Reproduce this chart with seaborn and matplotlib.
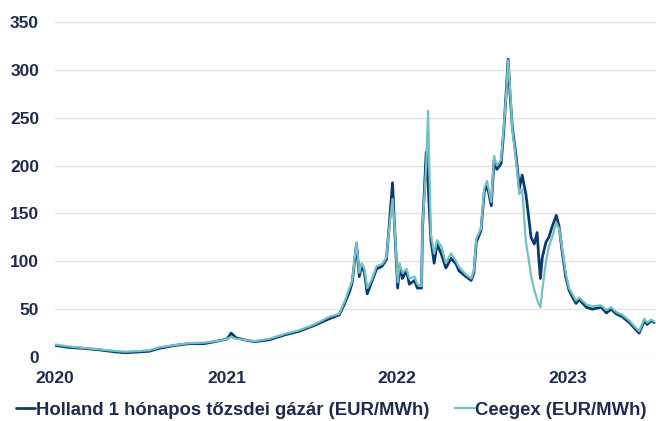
import matplotlib
matplotlib.use("Agg")
import matplotlib.pyplot as plt
import matplotlib.dates as mdates
import numpy as np
import pandas as pd
import seaborn as sns

# Daily gas prices, EUR/MWh
dates = [
    "2020-01-02", "2020-01-31", "2020-03-03", "2020-04-04", "2020-05-06", "2020-05-28",
    "2020-06-18", "2020-07-20", "2020-08-10", "2020-09-12", "2020-10-14", "2020-11-15",
    "2020-12-17", "2021-01-03", "2021-01-11", "2021-01-22", "2021-02-08", "2021-03-02",
    "2021-04-03", "2021-05-05", "2021-06-06", "2021-07-08", "2021-08-09", "2021-08-30",
    "2021-09-10", "2021-09-21", "2021-09-27", "2021-10-06", "2021-10-12", "2021-10-17",
    "2021-10-23", "2021-10-29", "2021-11-07", "2021-11-18", "2021-11-30", "2021-12-09",
    "2021-12-15", "2021-12-22", "2021-12-26", "2022-01-02", "2022-01-06", "2022-01-12",
    "2022-01-21", "2022-01-27", "2022-02-07", "2022-02-13", "2022-02-22", "2022-02-24",
    "2022-03-04", "2022-03-08", "2022-03-14", "2022-03-21", "2022-03-27", "2022-04-05",
    "2022-04-15", "2022-04-26", "2022-05-07", "2022-05-13", "2022-05-28", "2022-06-08",
    "2022-06-14", "2022-06-19", "2022-06-29", "2022-07-06", "2022-07-12", "2022-07-21",
    "2022-07-27", "2022-08-02", "2022-08-11", "2022-08-17", "2022-08-22", "2022-08-26",
    "2022-08-30", "2022-09-04", "2022-09-12", "2022-09-19", "2022-09-25", "2022-10-03",
    "2022-10-08", "2022-10-14", "2022-10-21", "2022-10-27", "2022-10-31", "2022-11-03",
    "2022-11-07", "2022-11-15", "2022-11-21", "2022-11-28", "2022-12-07", "2022-12-13",
    "2022-12-19", "2022-12-27", "2023-01-03", "2023-01-10", "2023-01-18", "2023-01-25",
    "2023-02-09", "2023-02-22", "2023-03-13", "2023-03-24", "2023-04-03", "2023-04-14",
    "2023-04-27", "2023-05-12", "2023-05-27", "2023-06-02", "2023-06-13", "2023-06-19",
    "2023-06-28", "2023-07-04",
]

ttf = [
    12, 10, 9, 7.5, 5.5, 4.5,
    5, 6, 9, 12, 14, 14,
    17, 19, 25, 20, 18, 16,
    18, 23, 27, 33, 40, 44,
    55, 68, 78, 118, 84, 96,
    88, 66, 78, 92, 95, 102,
    138, 182, 140, 72, 95, 82,
    90, 76, 80, 72, 72, 134,
    214, 180, 122, 98, 118, 108,
    93, 103, 97, 90, 84, 80,
    88, 120, 132, 172, 180, 158,
    205, 196, 202, 238, 278, 311,
    275, 240, 210, 176, 190, 170,
    150, 125, 118, 130, 100, 82,
    104, 120, 125, 136, 148, 136,
    112, 84, 70, 63, 56, 60,
    52, 50, 52, 46, 50, 45,
    42, 36, 28, 25, 38, 34,
    38, 36,
]

ceegex = [
    13, 11, 9.5, 8, 6.5, 5.5,
    6, 7, 10, 12.5, 14.5, 15,
    17, 19, 21, 19, 18, 16.5,
    19, 24, 28, 34, 42, 45,
    57, 72, 80, 120, 88, 98,
    92, 72, 80, 95, 97, 104,
    135, 165, 140, 78, 98, 88,
    92, 82, 84, 76, 74, 136,
    200, 257, 128, 108, 122, 116,
    98, 108, 100, 94, 86, 82,
    90, 124, 134, 176, 184, 162,
    210, 200, 206, 242, 275, 310,
    282, 238, 205, 170, 175, 120,
    105, 85, 70, 60, 55, 52,
    70, 100, 115, 125, 140, 134,
    115, 88, 72, 66, 59, 62,
    55, 53, 54, 49, 52, 47,
    44, 38, 30, 27, 40, 36,
    39, 37,
]

series_names = [
    "Holland 1 hónapos tőzsdei gázár (EUR/MWh)",
    "Ceegex (EUR/MWh)",
]
year_ticks = ["2020-01-01", "2021-01-01", "2022-01-01", "2023-01-01"]
y_ticks = [0, 50, 100, 150, 200, 250, 300, 350]

dark = "#0b3a6f"
light = "#74c0c6"
text_color = "#1f2b4d"

sns.set_theme(style="white")
plt.rcParams["font.family"] = ["Liberation Sans", "DejaVu Sans"]
plt.rcParams["font.weight"] = "bold"

df = pd.DataFrame({
    "date": pd.to_datetime(dates * 2),
    "value": ttf + ceegex,
    "series": [series_names[0]] * len(dates) + [series_names[1]] * len(dates),
})

fig = plt.figure(figsize=(6.56, 4.21), dpi=100)
ax = fig.add_axes([0.084, 0.152, 0.916, 0.796])

sns.lineplot(
    data=df, x="date", y="value", hue="series",
    palette={series_names[0]: dark, series_names[1]: light},
    hue_order=series_names, ax=ax, legend=False, estimator=None,
)
for line, lw in zip(ax.lines, [2.0, 1.6]):
    line.set_linewidth(lw)
    line.set_solid_joinstyle("round")

ax.set_ylim(0, 350)
ax.set_xlim(pd.Timestamp("2020-01-01"), pd.Timestamp("2023-07-08"))
ax.set_yticks(y_ticks)
ax.set_xticks(pd.to_datetime(year_ticks))
ax.xaxis.set_major_formatter(mdates.DateFormatter("%Y"))
ax.grid(axis="y", color="#e3e3e3", linewidth=1.0)
ax.grid(axis="x", visible=False)
for s in ax.spines.values():
    s.set_visible(False)
ax.tick_params(axis="both", length=0, labelsize=12.5, colors=text_color)
ax.tick_params(axis="y", pad=11.5)
ax.tick_params(axis="x", pad=10)
for lab in ax.get_xticklabels() + ax.get_yticklabels():
    lab.set_fontweight("bold")
ax.set_xlabel("")
ax.set_ylabel("")

handles = [
    plt.Line2D([], [], color=dark, linewidth=2.0),
    plt.Line2D([], [], color=light, linewidth=1.6),
]
leg = fig.legend(
    handles, series_names, loc="center", bbox_to_anchor=(0.505, 0.026),
    ncol=2, frameon=False, handlelength=1.05, handletextpad=0.05,
    columnspacing=1.4, prop={"size": 13.3, "weight": "bold"},
)
for t in leg.get_texts():
    t.set_color(text_color)

fig.savefig("out.png", dpi=100)
